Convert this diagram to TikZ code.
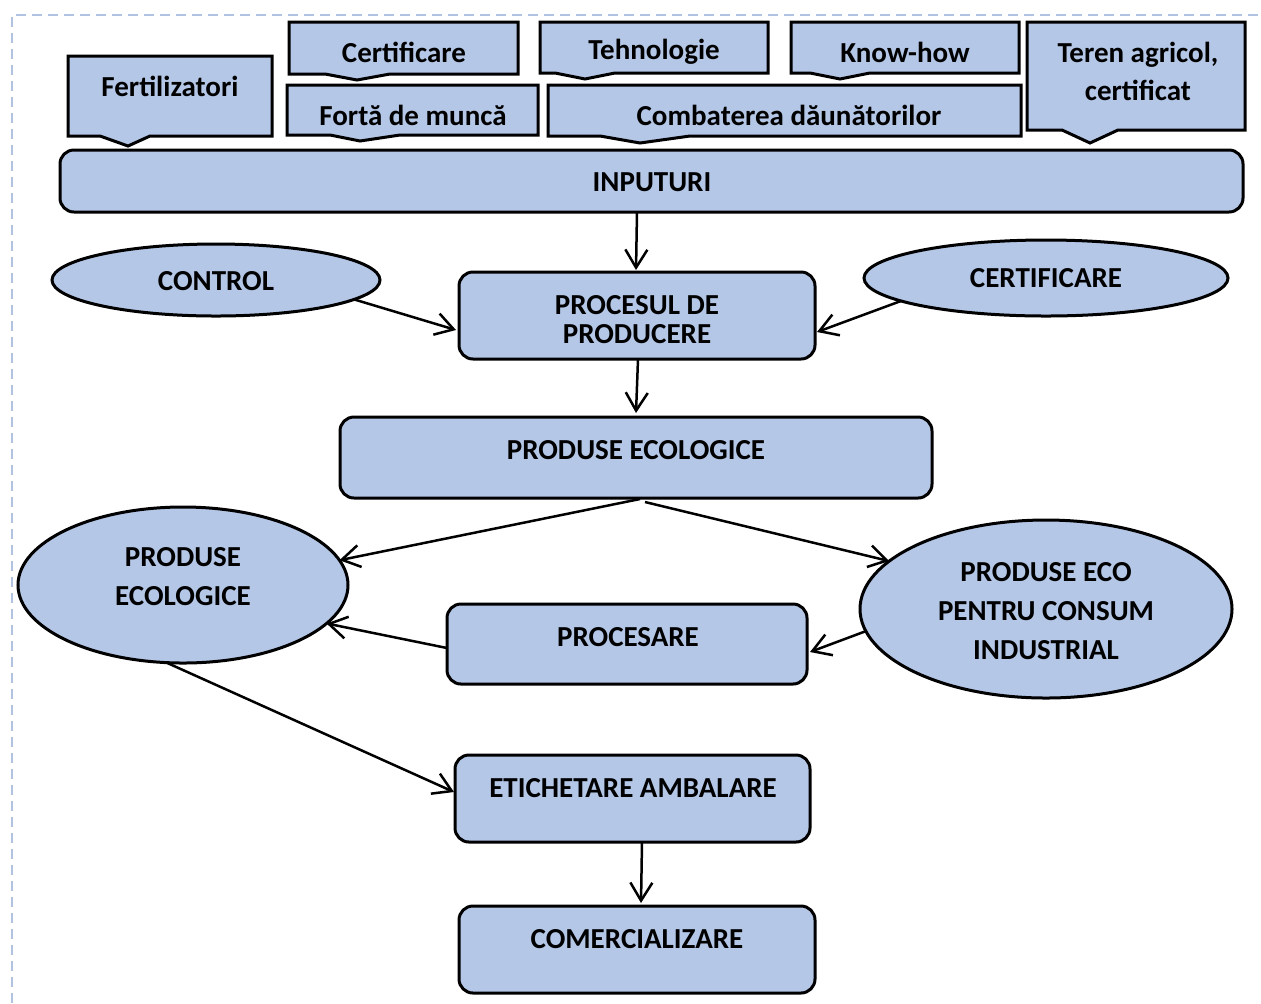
\documentclass[tikz,border=0pt]{standalone}
\usepackage{fontspec}
\setmainfont{Carlito}
\usetikzlibrary{arrows.meta,shapes.geometric,calc}
\definecolor{boxfill}{RGB}{180,199,231}
\definecolor{frameblue}{RGB}{176,196,226}
\newcommand\mycallout[8]{\draw[callshape] (#1,#2) -- (#3,#2) -- (#3,#4) -- (#6,#4) -- (#7,#8) -- (#5,#4) -- (#1,#4) -- cycle;}
\begin{document}
\begin{tikzpicture}[x=0.5pt,y=-0.5pt,
 every node/.style={font=\bfseries\fontsize{14.5}{19.5}\selectfont, inner sep=0pt, outer sep=0pt},
 rbox/.style={draw, line width=1.5pt, fill=boxfill, rounded corners=7pt},
 oval/.style={ellipse, draw, line width=1.5pt, fill=boxfill},
 lbl/.style={align=center},
 conn/.style={line width=1.25pt, -{Straight Barb[length=9pt,width=11pt,line width=1.25pt]}},
 callshape/.style={draw, line width=1.5pt, fill=boxfill, line join=miter}]
\useasboundingbox (0,0) rectangle (1261,1003);
% frame
\draw[frameblue, line width=1pt, dash pattern=on 5pt off 3pt] (12,1003) -- (12,15) -- (1261,15);

% callouts
\mycallout{68}{56}{272}{136}{100}{150}{128}{146}
\mycallout{289}{22}{518}{74}{325}{390}{357}{80}
\mycallout{540}{22}{768}{73}{555}{615}{585}{79}
\mycallout{791}{22}{1019}{73}{810}{870}{840}{79}
\mycallout{287}{85}{538}{135}{330}{400}{360}{141}
\mycallout{548}{85}{1021}{136}{600}{690}{640}{143}
\mycallout{1027}{22}{1245}{130}{1062}{1118}{1090}{143}
\node[lbl] (tFert) at (170,86) {Fertilizatori};
\node[lbl] (tCert) at (404,52) {Certificare};
\node[lbl] (tTehn) at (654,52) {Tehnologie};
\node[lbl] (tKnow) at (905,52) {Know-how};
\node[lbl] (tForta) at (413,115) {Fortă de muncă};
\node[lbl] (tComb) at (789,115) {Combaterea dăunătorilor};
\node[lbl, font=\bfseries\fontsize{14.5}{19}\selectfont] (tTeren) at (1138,71) {Teren agricol,\\certificat};

% main boxes
\node[rbox, minimum width=591.5pt, minimum height=31pt] (inp) at (651.5,181) {};
\node[lbl] (tInp) at (652,182) {INPUTURI};
\node[rbox, minimum width=178pt, minimum height=43.5pt] (proc) at (637,315.5) {};
\node[lbl, font=\bfseries\fontsize{14.5}{14.5}\selectfont] (tProc) at (637,320) {PROCESUL DE\\PRODUCERE};
\node[rbox, minimum width=296pt, minimum height=40.5pt] (prodbox) at (636,457.5) {};
\node[lbl] (tProdbox) at (636,450) {PRODUSE ECOLOGICE};
\node[rbox, minimum width=180pt, minimum height=40pt] (procesare) at (627,644) {};
\node[lbl] (tProcesare) at (628,637) {PROCESARE};
\node[rbox, minimum width=177.5pt, minimum height=43.5pt] (etich) at (632.5,798.5) {};
\node[lbl] (tEtich) at (633,788) {ETICHETARE AMBALARE};
\node[rbox, minimum width=178pt, minimum height=43.5pt] (comm) at (637,949.5) {};
\node[lbl] (tComm) at (637,939) {COMERCIALIZARE};

% ellipses
\node[oval, minimum width=164pt, minimum height=36pt] (control) at (216,280) {};
\node[lbl] (tControl) at (216,281) {CONTROL};
\node[oval, minimum width=182pt, minimum height=38pt] (cert) at (1046,278) {};
\node[lbl] (tCertE) at (1046,278) {CERTIFICARE};
\node[oval, minimum width=165pt, minimum height=78pt] (ecoL) at (183,585) {};
\node[lbl] (tEcoL) at (183,577) {PRODUSE\\ECOLOGICE};
\node[oval, minimum width=186pt, minimum height=89pt] (ecoI) at (1046,609) {};
\node[lbl] (tEcoI) at (1046,611) {PRODUSE ECO\\PENTRU CONSUM\\INDUSTRIAL};

% connectors
\draw[conn] ($(inp.south)+(-14.5,0)$) -- ($(proc.north)+(-1,-2)$);
\draw[conn] (control.-8) -- ($(proc.west)+(-3,14.5)$);
\draw[conn] (cert.189.7) -- ($(proc.east)+(2,16.5)$);
\draw[conn] ($(proc.south)+(1,0)$) -- ($(prodbox.north)+(0,-4)$);
\draw[conn] ($(prodbox.south)+(4,1)$) -- (ecoL.9.2);
\draw[conn] ($(prodbox.south)+(9,4)$) -- (ecoI.163.5);
\draw[conn] ($(procesare.west)+(0,4)$) -- (ecoL.-15.3);
\draw[conn] (ecoI.187.4) -- ($(procesare.east)+(3,8)$);
\draw[conn] (ecoL.258.7) -- ($(etich.west)+(-1,-6.5)$);
\draw[conn] ($(etich.south)+(9.5,0)$) -- ($(comm.north)+(4,-3)$);
\end{tikzpicture}
\end{document}
